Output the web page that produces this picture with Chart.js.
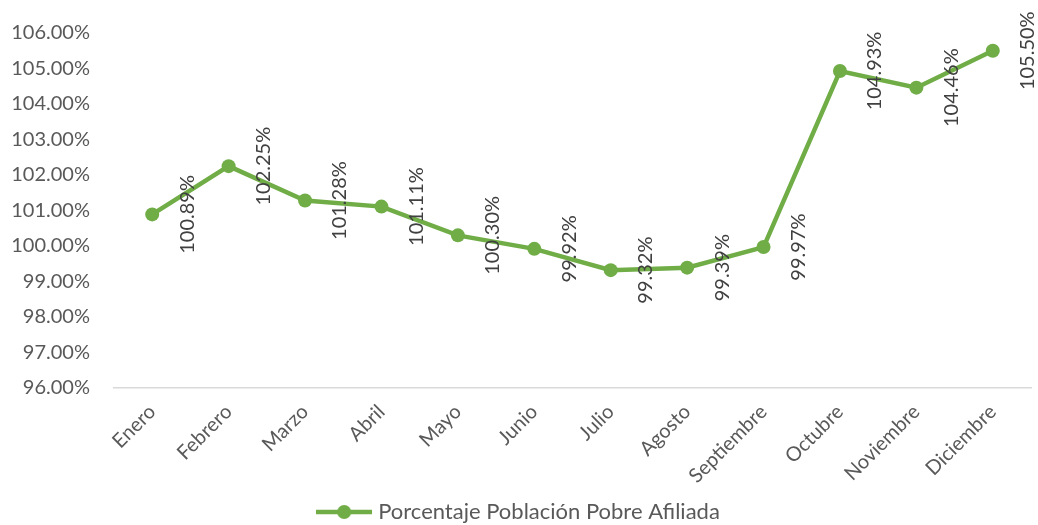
<!DOCTYPE html>
<html>
<head>
<meta charset="utf-8">
<script src="https://cdn.jsdelivr.net/npm/chart.js@4/dist/chart.umd.min.js"></script>
<style>
  html, body { margin: 0; padding: 0; background: #fff; }
  #wrap { width: 1038px; height: 525px; position: relative; }
</style>
</head>
<body>
<div id="wrap"><canvas id="myChart"></canvas></div>
<script>
// data
const months = ['Enero', 'Febrero', 'Marzo', 'Abril', 'Mayo', 'Junio', 'Julio',
  'Agosto', 'Septiembre', 'Octubre', 'Noviembre', 'Diciembre'];
const afiliada = [100.89, 102.25, 101.28, 101.11, 100.30, 99.92, 99.32, 99.39, 99.97, 104.93, 104.46, 105.50];
const seriesName = 'Porcentaje Población Pobre Afiliada';
const yMin = 96, yMax = 106, yStep = 1;

const green = '#70AD47';
const fontFamily = 'Lato, "Open Sans", sans-serif';

// legend marker: line with a dot
const marker = document.createElement('canvas');
marker.width = 56; marker.height = 16;
(function () {
  const c = marker.getContext('2d');
  c.strokeStyle = green; c.lineWidth = 4.5;
  c.beginPath(); c.moveTo(0, 8); c.lineTo(56, 8); c.stroke();
  c.fillStyle = green;
  c.beginPath(); c.arc(28, 8, 7, 0, Math.PI * 2); c.fill();
})();

// vertical value labels to the right of each point
const valueLabels = {
  id: 'valueLabels',
  afterDatasetsDraw(chart) {
    const ctx = chart.ctx;
    const meta = chart.getDatasetMeta(0);
    ctx.save();
    ctx.font = '20px ' + fontFamily;
    ctx.fillStyle = '#404040';
    ctx.textAlign = 'center';
    ctx.textBaseline = 'middle';
    meta.data.forEach((pt, i) => {
      ctx.save();
      ctx.translate(pt.x + 35, pt.y);
      ctx.rotate(-Math.PI / 2);
      ctx.fillText(afiliada[i].toFixed(2) + '%', 0, 0);
      ctx.restore();
    });
    ctx.restore();
  }
};

new Chart(document.getElementById('myChart').getContext('2d'), {
  type: 'line',
  data: {
    labels: months,
    datasets: [{
      label: seriesName,
      data: afiliada,
      borderColor: green,
      backgroundColor: green,
      borderWidth: 4.5,
      tension: 0,
      pointStyle: 'circle',
      pointRadius: 7,
      pointHoverRadius: 7,
      pointBorderWidth: 0,
      pointBackgroundColor: green
    }]
  },
  options: {
    responsive: true,
    maintainAspectRatio: false,
    animation: false,
    layout: { padding: { top: 33, left: 10, right: 7, bottom: -8 } },
    scales: {
      x: {
        offset: true,
        grid: { display: false },
        border: { display: true, color: '#D9D9D9', width: 1.5 },
        ticks: {
          color: '#595959',
          font: { family: fontFamily, size: 20 },
          minRotation: 45, maxRotation: 45,
          padding: 4
        },
        afterFit(scale) {
          scale.height = 111;
          scale.paddingLeft = 0;
          scale.paddingRight = 0;
        }
      },
      y: {
        min: yMin, max: yMax,
        grid: { display: false, drawTicks: false },
        border: { display: false },
        ticks: {
          stepSize: yStep,
          color: '#595959',
          font: { family: fontFamily, size: 20 },
          padding: 24,
          callback: v => v.toFixed(2) + '%'
        },
        afterFit(scale) {
          scale.width = 104;
          scale.paddingTop = 0;
          scale.paddingBottom = 0;
        }
      }
    },
    plugins: {
      tooltip: { enabled: false },
      legend: {
        position: 'bottom',
        labels: {
          color: '#595959',
          font: { family: fontFamily, size: 22 },
          usePointStyle: true,
          pointStyleWidth: 46,
          boxHeight: 16,
          padding: 2,
          generateLabels(chart) {
            return [{
              text: seriesName,
              fontColor: '#595959',
              pointStyle: marker,
              lineWidth: 0,
              strokeStyle: green,
              fillStyle: green,
              datasetIndex: 0
            }];
          }
        }
      }
    }
  },
  plugins: [valueLabels]
});
</script>
</body>
</html>
